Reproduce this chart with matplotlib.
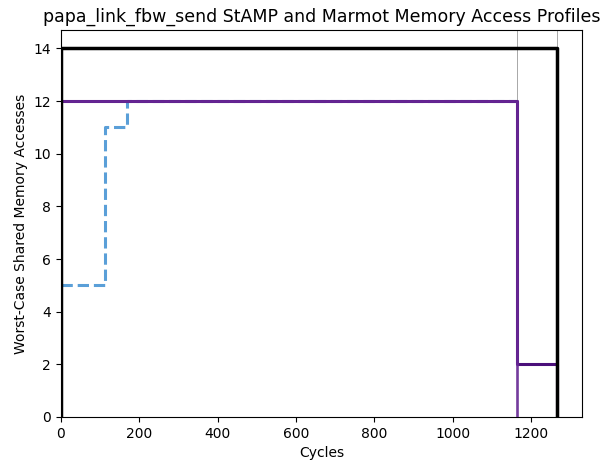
import matplotlib
matplotlib.use("Agg")
import matplotlib.pyplot as plt

# StAMP bound (black)
stamp_x = [0, 0, 1267, 1267]
stamp_y = [0, 14, 14, 0]

# Marmot profiles (purple)
marmot_a_x = [0, 0, 1165, 1165]
marmot_a_y = [0, 12, 12, 0]
marmot_b_x = [0, 1165, 1165, 1267, 1267]
marmot_b_y = [12, 12, 2, 2, 0]

# Observed profile (blue dashed)
obs_x = [0, 113, 113, 168, 168, 1165]
obs_y = [5, 5, 11, 11, 12, 12]

# reference markers
vlines = [1165, 1267]

fig = plt.figure(figsize=(6.03, 4.7), dpi=100)
ax = fig.add_axes([0.101, 0.113, 0.864, 0.823])

for v in vlines:
    ax.axvline(v, color='gray', lw=0.6, alpha=0.8, zorder=1)

ax.plot(obs_x, obs_y, color='#5a9fd8', lw=2.2, ls='--', zorder=2)
ax.plot(marmot_b_x, marmot_b_y, color='#4b0f7a', lw=2.2, zorder=3)
ax.plot(marmot_a_x, marmot_a_y, color='#6a2a98', lw=2.0, alpha=0.85, zorder=4)
ax.plot(stamp_x, stamp_y, color='black', lw=2.5, zorder=5)

ax.set_xlim(0, 1267 * 1.05)
ax.set_ylim(0, 14 * 1.05)
ax.set_xlabel('Cycles')
ax.set_ylabel('Worst-Case Shared Memory Accesses')
ax.set_title('papa_link_fbw_send StAMP and Marmot Memory Access Profiles', fontsize=12.5)

fig.savefig('out.png', dpi=100)
